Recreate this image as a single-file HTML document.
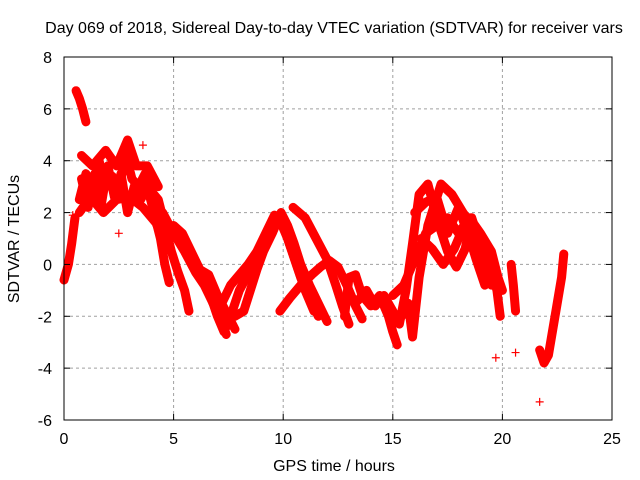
<!DOCTYPE html>
<html><head><meta charset="utf-8"><style>
body{margin:0;background:#fff}
svg{display:block;font-family:"Liberation Sans",sans-serif}
</style></head><body>
<svg id="chart" width="640" height="480" viewBox="0 0 640 480">
<rect width="640" height="480" fill="#fff"/>
<text x="334" y="33" font-size="16" text-anchor="middle">Day 069 of 2018, Sidereal Day-to-day VTEC variation (SDTVAR) for receiver vars</text>
<text x="334" y="471" font-size="16" text-anchor="middle">GPS time / hours</text>
<text transform="translate(19,239) rotate(-90)" font-size="16" text-anchor="middle">SDTVAR / TECUs</text>
<g id="grid"></g><g id="marks"></g><g id="axes"></g>
</svg>
<script>
const xTicks=[0,5,10,15,20,25];
const yTicks=[-6,-4,-2,0,2,4,6,8];
const track1=[[0,-0.6],[0.2,0],[0.35,0.8],[0.5,1.8]];
const track2=[[0.55,6.7],[0.7,6.4],[0.85,6.0],[1.0,5.5]];
const track3=[[0.7,2.5],[1.0,3.5],[1.3,3.0],[1.6,4.0],[1.9,3.0],[2.2,3.4],[2.5,2.8],[2.8,4.3],[3.1,3.3],[3.4,3.0],[3.7,3.5],[4.0,2.8],[4.3,2.5],[4.6,1.5],[4.9,0.5],[5.2,-0.3],[5.5,-1.0],[5.7,-1.8]];
const track4=[[0.8,3.3],[1.1,2.2],[1.4,3.5],[1.7,2.3],[2.0,3.8],[2.3,2.6],[2.6,3.5],[2.9,2.0],[3.2,3.0],[3.5,2.5],[3.8,3.0],[4.1,2.0],[4.4,1.0],[4.6,0.0],[4.8,-0.7]];
const track5=[[4.5,2.0],[5.0,1.2],[5.5,0.5],[6.0,-0.3],[6.4,-0.8],[6.8,-1.5],[7.2,-2.2],[7.4,-2.7]];
const track6=[[5.8,0.2],[6.2,-0.2],[6.6,-1.0],[7.0,-2.0],[7.3,-2.6],[7.6,-2.0],[8.0,-1.0],[8.5,-0.2],[9.0,0.8],[9.5,1.5],[9.8,1.8],[10.2,1.0],[10.6,0.0],[11.0,-1.0],[11.4,-1.8]];
const track7=[[6.8,-1.5],[7.2,-1.5],[7.6,-0.8],[8.0,-0.4],[8.4,0.0],[8.8,0.5],[9.2,1.2],[9.6,1.9],[10.0,1.5],[10.4,0.5],[10.8,-0.5],[11.2,-1.3],[11.6,-2.0]];
const track8=[[7.8,-2.0],[8.2,-1.8],[8.5,-1.0],[8.8,-0.2],[9.1,0.5],[9.5,1.2],[9.9,2.0],[10.2,1.5],[10.5,0.8],[10.8,0.0],[11.2,-0.8],[11.6,-1.5],[12.0,-2.2]];
const track9=[[9.85,-1.8],[10.3,-1.3],[10.8,-0.8],[11.3,-0.4],[11.7,-0.1],[12.1,0.15],[12.5,-0.1],[12.9,-0.8],[13.3,-1.6],[13.6,-2.1]];
const track10=[[10.45,2.2],[11.0,1.8],[11.5,1.0],[12.0,0.2],[12.4,-0.8],[12.7,-1.6],[13.0,-2.3]];
const track11=[[12.8,-2.0],[13.0,-0.5],[13.3,-0.4],[13.6,-1.2],[14.0,-1.6],[14.4,-1.2],[14.8,-2.0],[15.0,-2.6],[15.2,-3.1]];
const track12=[[13.4,-1.4],[13.8,-1.0],[14.2,-1.6],[14.6,-1.2],[15.0,-1.8],[15.3,-2.3],[15.6,-1.0],[15.9,0.8],[16.2,2.7],[16.6,3.1],[17.0,1.8],[17.5,0.5],[17.9,-0.1],[18.3,0.6],[18.6,1.8],[18.9,1.0],[19.2,0.0],[19.5,-0.8]];
const track13=[[15.4,-2.0],[15.7,-1.5],[15.9,-2.8],[16.2,-0.5],[16.6,1.5],[17.2,3.1],[17.7,2.7],[18.2,2.0],[18.7,1.4],[19.3,0.5],[19.75,-1.0],[19.9,-2.0]];
const track14=[[15.0,-1.2],[15.5,-0.8],[16.0,0.2],[16.5,1.2],[17.0,1.5],[17.5,1.8],[18.0,1.2],[18.5,1.8],[19.0,1.2],[19.5,0.5],[19.8,-0.5],[20.0,-1.0]];
const track15=[[20.4,0.0],[20.5,-0.8],[20.6,-1.8]];
const track16=[[21.7,-3.3],[21.9,-3.8],[22.1,-3.5],[22.3,-2.5],[22.5,-1.5],[22.7,-0.5],[22.8,0.4]];
const track17=[[0.7,2.0],[1.2,2.6],[1.8,2.0],[2.4,2.5],[3.0,2.6],[3.6,2.2],[4.2,1.6],[4.6,0.8]];
const track18=[[0.8,4.2],[1.3,3.8],[1.9,4.4],[2.4,3.8],[2.9,4.8],[3.3,3.8],[3.8,3.8],[4.3,3.0]];
const track19=[[16.0,2.0],[16.5,2.4],[17.0,2.6],[17.5,1.2],[18.0,2.2],[18.5,1.0],[19.0,0.8],[19.5,-0.5],[19.8,-1.0]];
const track20=[[16.3,1.0],[16.8,0.6],[17.3,0.0],[17.8,0.6],[18.3,1.6],[18.8,0.2],[19.2,-0.8],[19.6,0.0]];
const track21=[[4.6,0.6],[5.0,1.5],[5.4,1.2],[5.8,0.5],[6.2,-0.2],[6.6,-0.4],[7.0,-1.2],[7.5,-2.0],[7.8,-2.5]];
const outliers=[[1.4,3.2],[2.5,1.2],[3.6,4.6],[19.7,-3.6],[20.6,-3.4],[21.7,-5.3],[0.4,1.9]];
const tracks=[track1,track2,track3,track4,track5,track6,track7,track8,track9,track10,track11,track12,track13,track14,track15,track16,track17,track18,track19,track20,track21];

const X0=64,X1=612,Y0=420,Y1=57;
const xs=t=>X0+(t-0)/(25-0)*(X1-X0);
const ys=v=>Y0-(v+6)/(14)*(Y0-Y1);
const NS='http://www.w3.org/2000/svg';
const grid=document.getElementById('grid'),marks=document.getElementById('marks'),axes=document.getElementById('axes');
function mk(tag,attrs,parent){const e=document.createElementNS(NS,tag);for(const k in attrs)e.setAttribute(k,attrs[k]);parent.appendChild(e);return e;}
xTicks.forEach(t=>{
  const x=xs(t);
  if(t>0&&t<25){const g=mk('line',{x1:x,x2:x,y1:Y1,y2:Y0,stroke:'#a0a0a0','stroke-dasharray':'3,3'},grid);
  
  }
  mk('line',{x1:x,x2:x,y1:Y0,y2:Y0-6,stroke:'#000'},axes);
  mk('line',{x1:x,x2:x,y1:Y1,y2:Y1+6,stroke:'#000'},axes);
  const l=mk('text',{x:x,y:444,'font-size':16,'text-anchor':'middle'},axes);l.textContent=t;
  
  
});
yTicks.forEach(v=>{
  const y=ys(v);
  if(v>-6&&v<8){const g=mk('line',{x1:X0,x2:X1,y1:y,y2:y,stroke:'#a0a0a0','stroke-dasharray':'3,3'},grid);
  
  }
  mk('line',{x1:X0,x2:X0+6,y1:y,y2:y,stroke:'#000'},axes);
  mk('line',{x1:X1,x2:X1-6,y1:y,y2:y,stroke:'#000'},axes);
  const l=mk('text',{x:52,y:y+6,'font-size':16,'text-anchor':'end'},axes);l.textContent=v;
  
  
});
const frame=mk('rect',{x:X0,y:Y1,width:X1-X0,height:Y0-Y1,fill:'none',stroke:'#000'},axes);


function plus(t,v,parent){const x=xs(t),y=ys(v);
  const p=mk('path',{d:`M${x-4},${y}h8M${x},${y-4}v8`,stroke:'#f00','stroke-width':1.2},parent);
  
  }
tracks.forEach((tr,i)=>{
  const g=mk('g',{},marks);
  
  
  const pl=mk('polyline',{points:tr.map(p=>xs(p[0])+','+ys(p[1])).join(' '),fill:'none',stroke:'#f00','stroke-width':9,'stroke-linejoin':'round','stroke-linecap':'round'},g);
  
  
  tr.forEach(p=>plus(p[0],p[1],g));
});
outliers.forEach(p=>plus(p[0],p[1],marks));
</script>
</body></html>
